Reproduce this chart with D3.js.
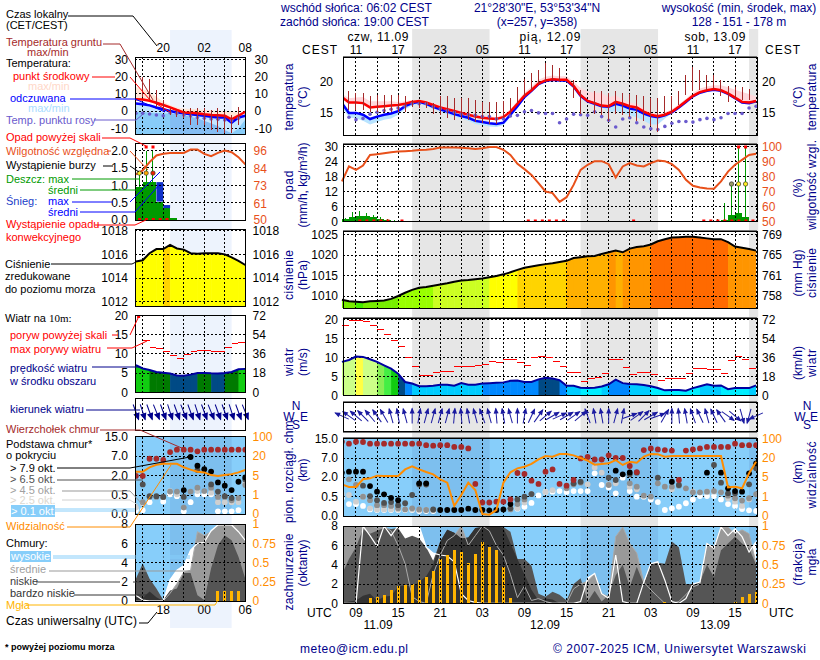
<!DOCTYPE html>
<html>
<head>
<meta charset="utf-8">
<script src="https://cdn.jsdelivr.net/npm/d3@7"></script>
<style>
  html, body { margin: 0; background: #fff; }
  svg { display: block; }
  text { font-family: "Liberation Sans", Arial, sans-serif; font-size: 12px; }
</style>
</head>
<body>
<svg id="chart" width="820" height="660"></svg>
<script>
// hours are counted from 00 UTC 11.09
const hoursM = d3.range(7, 67);
const hoursL = d3.range(14, 31);

// ---- main panel data (hourly, 07 UTC 11.09 -> 18 UTC 13.09)
const tempMid = [17.5,16.6,16.6,16.5,15.8,15.9,16,16.1,16.2,16.4,16.7,16.85,16.6,16.2,15.8,15.5,15.2,14.9,14.6,14.3,14.1,14,13.9,14.2,15.1,16.4,17.7,18.6,19.7,20.2,20.4,20.3,20.3,19.3,17.8,16.85,16.5,16.1,16,16.7,16.4,16,15.8,15.1,14.6,14.35,14.6,15.1,15.9,16.8,17.7,18.3,18.6,18.8,18.6,18.1,17.4,16.7,16.6,16.85];
const tempHi = [18,17.3,17.4,17.5,16.8,16.8,16.8,16.8,16.7,16.8,17,17,16.9,16.5,16.1,15.8,15.5,15.2,14.9,14.6,14.4,14.3,14.2,14.6,15.5,16.9,18.2,19.2,20.3,20.8,21,20.9,20.9,20,19,18.4,18.2,18.2,17.4,17.8,17,16.6,16.4,15.6,15,14.7,15,15.5,16.3,17.2,18.2,18.9,19.2,19.4,19.4,19.1,18.7,18.3,18,17.6];
const tempApp = [16.5,14.9,14.9,14.6,13.9,14.3,14.6,14.8,15.2,16,16.5,16.7,16.4,15.9,15.5,15.1,14.7,14.4,14.1,13.6,13.4,13.2,13.1,13.3,14.6,16,17.5,18.5,19.6,20.1,20.3,20.2,20.2,19.2,17.7,16.8,16.4,16,15.9,16.4,16.1,15.6,15.4,14.8,14.4,14.2,14.5,15,15.8,16.7,17.6,18.2,18.5,18.7,18.5,18,17.3,16.6,16.5,16.8];
const tempAppLo = [15.8,14.2,14,13.6,13,13.4,13.8,14,14.6,15.5,16.1,16.4,16.1,15.6,15.1,14.7,14.3,14,13.6,13.1,12.9,12.7,12.6,12.9,14.2,15.7,17.2,18.3,19.5,20,20.2,20.1,20,19,18,17.2,16.3,15.9,15,15.2,14.9,14.5,14.2,13.6,13,13,14,14.8,15.7,16.6,17.5,18.1,18.4,18.6,18.4,17.9,17.2,16.5,16.4,16.7];
const tempDew = [13.4,14.2,13.8,14,14.7,15,15.3,15.5,15.7,16,16.4,16.4,16.4,15.9,15.6,15.3,15,14.7,14.6,14.5,14.3,14.3,13.9,13.9,14.4,14.5,15.1,15.3,14.9,14.8,14.8,13.3,13.9,14.7,14.6,14.5,15.1,14.3,13.7,12.6,13.9,14.1,13.3,12.6,12.3,12.2,12.7,13.2,13.5,13.5,13.4,13.8,14,13.8,14.1,14.8,14.8,14.8,15.7,16];
const groundHi = [null,18.5,18.2,18.1,17.6,17.9,17.9,17.9,17.8,17.6,17,16.8,16.7,16.5,17.6,17.6,17.4,17.4,17.3,17,16.7,16.7,16.7,16.8,17.4,19.1,20.4,21.5,21.9,23.1,22.7,22.3,null,20.3,18.6,null,18.5,18.4,18.1,18.4,18.1,18,17.8,17.7,17.3,17.3,17.6,17.6,18.5,21.1,22.4,21.9,21.1,21.1,20.3,19.3,19.2,19.1,18.8,null];
const groundLo = [null,15.4,15.4,15.4,15.1,15.1,15.1,15.1,15.1,15.1,15.9,15.7,15.7,14.8,14.6,14.1,13.8,14,13.8,13.4,13.2,13.1,13.1,14,14.8,16.5,17.6,18.6,19.7,20,20.3,20,null,17.4,14.8,null,14.8,14.6,13.5,14.8,14.6,14.3,13.5,13.5,12.7,11.8,14.6,14.8,16.2,17.8,18.4,18.6,18.6,18.8,17.6,16.7,17,17,17,null];

const humidity = [76.7,86.7,84.4,87.3,94.4,94.9,95.5,96.2,96.7,96.9,97.1,97.6,97.8,98.4,99.3,99.3,99.3,99.1,98.9,98.4,98.9,99.6,99.6,97.8,94.4,88.4,84.9,81.1,75.6,70,68.9,63.1,66.2,74.4,84.4,87.8,90.2,90.2,88.2,79.3,86.7,88.9,87.3,86.7,88.9,90.7,90.2,88.2,84.4,77.8,73.8,72.7,72,71.8,76.7,83.3,87.8,91.1,94.4,95.1];
const rainHours = [7,8,9,10,11,12,13,14,60,61,62,63,64];
const rainMean = [1,2,2.4,2.4,1.7,1.1,0.7,0.3,0.1,0.7,2.7,3.3,2];
const rainMax = [1.5,4,4.2,3.3,2.7,1.7,1,0.5,0.9,7.3,15,30,30];
const rainAbove = [63,64];
const stormHours = [62,63,64];
const stormLevel = [1,2,2];
const convective = [9,10,11,12,13,15,33,34,35,36,37,38,48,58,59,60,61,62,63,64,65];

const pressure = [1009.1,1008.7,1008.6,1008.5,1008.7,1008.8,1008.9,1009.3,1010,1010.8,1011.5,1012,1012.2,1012.5,1012.8,1013.1,1013.5,1013.8,1013.9,1014.1,1014.3,1014.6,1014.9,1015.3,1015.8,1016.4,1016.9,1017.2,1017.5,1017.8,1018,1018.3,1018.6,1019.3,1019.5,1019.7,1019.8,1020.3,1020.7,1021.1,1020.7,1021.6,1022,1022.2,1022.6,1023.4,1023.9,1024.3,1024.4,1024.5,1024.5,1024.3,1024.1,1023.9,1023.9,1023.2,1022.1,1021.8,1021.5,1021.1];

const windSpeed = [8.8,9.3,10.2,10.1,9.5,8.8,7.9,7,5.7,3.5,3.1,2.4,2.4,2.5,2.8,2.8,2.5,3.2,2.8,2.8,3.1,3.2,3.3,3.4,3.8,3.9,3.5,3.5,4.2,4.6,4.4,4,2.5,2.5,2,1.9,2,2.3,2.9,4.1,3.2,3,2.9,2.7,2.4,1.9,1.3,1.4,1.4,1.2,1.9,2.4,2.9,2.5,2.6,1.6,1.9,1.9,1.9,2.6];
const windGust = [18.5,19.7,19.7,19.5,18.5,17.4,16,14.4,12.8,10,7.6,5.2,5.2,6,6.3,6.3,7.6,7.6,7.6,7.8,8.2,9,8.7,9.4,9.4,8.7,7.8,10,10.2,10,9,7.6,6.1,6.1,3.6,4.3,4.7,5.7,9.3,9.5,7.3,5.6,5.9,5.9,5.6,4,4.4,4.4,4.4,5.7,7,7.1,6.8,6.8,5.7,9.2,10.2,9.5,7];
const windDir = [-65,-55,-50,-45,-40,-35,-30,-15,-10,-15,0,10,15,15,15,15,5,-5,-10,-15,-20,-15,-5,-10,-15,0,10,25,35,50,60,65,60,55,50,-20,-10,-10,0,15,10,70,55,45,60,70,30,0,-5,-10,-20,-25,-15,-25,-35,125,130,165,195,245];

const cloudTop = [13.6,12.8,13.6,13.5,12.8,12.8,12.8,12.8,12.8,12.8,12.8,12.8,12.2,12,12.2,12.2,11.5,11.5,10.9,1.47,0.35,0.35,0.37,0.37,0.43,3.05,2.8,1.72,1.47,3.4,4,1.47,1.34,1.77,6.9,7.4,6.6,6.6,8.1,7,7,4.9,3.3,10.2,10.9,10.5,10.2,10,1.77,10,10.5,10.9,11.5,11.5,11.5,11.5,12.8,12.2,12.2,12.2];
const base79 = [3.14,3.4,3.4,3.4,1.31,0.88,0.68,0.47,0.41,null,null,1.52,1.52,null,0.155,0.155,0.155,0.155,0.19,0.155,0.155,0.147,0.155,0.17,0.31,null,null,null,null,null,null,null,null,null,null,null,null,null,null,3.67,2.7,3.2,null,null,null,null,null,1.64,null,null,null,null,3.14,null,3.14,1.14,0.93,0.88,2.97,5.6];
const base65 = [null,null,null,1.34,0.55,0.41,0.34,0.36,0.28,0.33,0.63,1.42,1.42,0.17,null,null,null,null,null,null,null,null,null,null,0.2,0.43,0.5,0.7,null,null,null,null,null,1.52,1.64,null,null,null,1.95,1.77,null,2.7,3.14,null,null,1.95,null,null,1.39,null,null,null,null,5.16,1.57,0.76,0.76,null,1.44,4.3];
const base45 = [null,1.82,1.39,0.5,0.41,0.28,0.28,0.26,0.2,0.17,0.2,0.17,0.155,0.155,null,null,null,null,null,null,null,null,null,null,0.17,0.31,0.43,0.7,null,null,null,null,1.14,1.44,1.57,null,null,null,1.39,null,null,1.52,1.26,0.58,0.5,1.52,1.26,1.26,1.34,1.14,0.83,0.83,0.88,0.93,0.83,0.58,0.46,0.4,0.46,0.7];
const base25 = [0.7,0.63,0.37,0.5,0.2,0.17,0.17,0.17,0.17,0.17,0.17,0.155,0.155,null,null,null,null,null,null,null,null,null,null,null,0.24,0.2,0.35,null,null,0.86,1,null,null,null,null,1.44,4.5,3.14,1.44,1.52,null,1.26,1.06,null,null,null,null,1.06,null,null,0.88,null,0.88,0.88,null,0.46,0.37,0.26,0.43,null];
const base01 = [0.46,0.31,0.31,0.26,0.17,0.155,0.155,0.155,0.155,0.155,0.155,0.13,0.13,0.13,null,null,null,null,null,null,null,null,null,null,null,0.19,0.24,0.34,0.6,0.86,0.88,0.93,0.86,0.93,0.93,0.93,2.97,1.39,1.21,0.76,1.95,0.93,0.5,0.5,0.43,0.36,0.155,0.2,0.24,0.33,0.43,0.55,0.55,0.55,0.43,0.31,0.26,0.18,0.147,0.13];
const visibility = [3.5,2.97,2.97,4.53,4.73,6.05,5.8,5.8,5.8,11,13.4,11,8.9,7.1,4.53,3.85,0.52,1.34,3.85,2.36,0.1,0.07,0.31,3.85,8.7,11.8,13.1,15.3,18.9,28.1,25.4,36.3,36.3,30.8,20,17.9,14.7,15.3,15.8,18.4,14.5,17.1,16.3,25.4,36.3,34.9,25.4,28.1,28.1,28.1,28.1,28.1,28.1,28.1,28.1,2.9,3.03,2.7,7.9,17.1];

const cloudHigh = [0,0,0,8,7,5.9,8,7,8,8,8,8,5.8,5.2,5,4.9,4.3,1,0.3,0.1,0,0,0,0,0,0,0,0,0,0,0,0,0,0,0.2,2.6,3.1,1,0.5,5,0.2,0,0,2.2,4.1,4.3,2.4,0.2,0,0.5,2,2.2,6.2,5.7,7.9,7,7.7,6.9,5.3,6.4];
const cloudMid = [8,8,8,8,8,7.8,8,7.5,6,4.1,0.7,0.2,0,3,5,6.5,7,8,6,7,8,7.5,6,5,3,0.6,1.8,0.3,0.5,0.2,0,0,0,1.5,2,2.3,3.1,1,0.7,6.9,7.9,6.2,5.2,2.2,1.4,0.7,0,0,0.2,0.9,1.7,2,6.2,5.8,7.9,7.9,7.2,7.6,7.2,4.1];
const cloudLow = [3,4.6,5.8,7.7,7.2,7.5,7.8,7.7,7.8,6.7,7,6.7,5.8,4.4,6.4,7.6,7.3,6.7,6.8,7.8,7.9,8,8,7.9,7.4,4.6,4.6,3.9,1,0.7,1.2,0.9,0.3,2,2.6,0.2,1.3,0.2,0.9,2.9,4,1.7,3.8,2,4.1,4.2,4.1,6.4,5.8,2,2,2.2,4,2.7,5.5,6.2,6.9,6.2,5.7,4];
const cloudVeryLow = [0,0.2,0.3,0.8,1,0.3,0.7,0.8,1.7,1.9,1.7,2.2,2.8,4,6.4,7.6,7.3,6.7,6.8,7.8,7.9,8,8,7.8,6.2,4.6,3,1.4,0.3,0.5,0.4,0,0,0,0,0,0,0,0,0,0,0,0,0,0,0,0,0,0,0,0,0,0,0,0,0,0,0,0,0];
const fogHours = [11,12,13,14,15,16,17,18,19,20,21,22,23,24,25,26,27,28,29,30,31,53,63,64,65,66];
const fogValue = [0.064,0.077,0.103,0.167,0.227,0.236,0.245,0.305,0.339,0.425,0.579,0.622,0.687,0.665,0.519,0.644,0.798,0.734,0.695,0.472,0.064,0.02,0.02,0.077,0.12,0.15];

// ---- legend panel data (14 -> 30 UTC)
const legMid = [6.9,6.7,6,4.8,3.5,2.1,0.6,-0.8,-1,-1.3,-1.9,-2.3,-2.5,-2.7,-4.8,-2.7,-0.4];
const legHi = [14,12.7,11.2,8.3,5.4,3.5,2.1,1.5,1.2,1,0.6,0.4,0.2,0,-0.4,-0.8,-1.3];
const legApp = [4.4,4,3.3,2.1,1,0,-0.8,-1.3,-1.9,-2.3,-2.7,-3.3,-3.7,-3.7,-6.7,-3.7,-2.7];
const legAppLo = [-0.4,-0.4,-0.8,-1,-1.3,-1.3,-1.7,-2.3,-3.3,-4.2,-5.6,-7.1,-8.7,-11,-12.9,-10,-4.8];
const legDew = [-1.3,-1.3,-1.7,-2.3,-2.7,-1,-1.3,-2.3,-2.9,-3.7,-4.2,-4.6,-4.8,-5.2,-5.6,-4.2,null];
const legGroundHi = [null,20,18.7,12,6.4,1.5,0.6,-0.4,1.5,1.5,1.5,0.6,1.5,-0.4,-2.3,2.5,null];
const legGroundLo = [null,8,6.4,2.5,-0.4,-2.3,-3.3,-4.2,-8,-8,-8,-11,-12,-13,-13,-8,null];
const legHumidity = [80.2,82.8,88.3,92.7,93.8,94.4,94.4,94.4,96.6,96.6,93.8,92.2,94.4,96,94.9,91.6,86.8];
const legRainHours = [14,15,16,17,18,19];
const legRainMean = [0.94,1.1,1.1,0.53,0.34,0.05];
const legRainMax = [1.35,2,2,0.53,0.34,0.05];
const legSnowMax = [0,0,0,1.09,0.43,0];
const legRainAbove = [15,16];
const legStormHours = [14,15,16];
const legStormLevel = [2,3,4];
const legConvective = [14,15,16,17,18];
const legPressure = [1015.4,1015.5,1016.1,1016.45,1016.45,1016.8,1016.5,1016.4,1016.1,1016.05,1016.1,1016.1,1016.1,1016,1015.75,1015.45,1015.1];
const legWind = [7.1,6.2,5.8,5.3,5.1,4.9,4.4,4.3,4.6,5,5.05,4.95,4.9,5.05,5.3,6,6.1];
const legGust = [null,13.5,11.7,11.4,10.6,9.7,8.9,9.8,10.6,10.9,10.9,10.6,10.6,11.6,12.8,12.9];
const legDir = [160,162,160,158,160,162,160,158,160,162,160,158,160,160,162,160,158];
const legTop = [1.97,1.97,6.3,6.3,6,8.6,9.6,9.6,9.6,8.9,9.6,9.6,9.6,9.6,9.6,9.6,9.6];
const leg79 = [null,null,null,null,null,null,null,0.88,6.74,4.5,3.6,3,1.47,1.21,0.88,1.52,1.85];
const leg65 = [null,1.31,0.47,0.47,0.45,null,null,0.45,null,3.4,null,1.31,0.76,0.47,0.42,null,1.7];
const leg45 = [null,0.31,0.45,0.45,0.45,0.76,0.76,0.17,0.76,1.06,0.8,1.06,0.45,0.45,0.36,0.42,1.26];
const leg25 = [0.17,0.28,null,null,null,0.8,0.55,null,null,0.8,null,0.68,0.31,0.31,0.31,0.31,1.39];
const leg01 = [0.1,0.1,0.31,null,0.33,0.55,0.47,0.07,0.31,0.55,0.55,0.55,0.07,0.07,0.07,0.1,null];
const legVis = [7.9,7.9,11.3,13.2,14,14,14,11.3,9.5,7.9,7.4,5.3,4.9,5.3,6.05,7.4,9.2];
const legHigh = [0.6,0.1,0,0,0,2.2,3.2,3.7,5.3,6,6.1,7.3,7.9,7.9,7.9,7.2,6.3];
const legCMid = [0,0,0,0,0,0.8,1.8,3,3.2,7.2,6.8,7.2,7.9,8,7.9,7.9,7.9];
const legLow = [2.3,3.9,2.3,1.3,0.1,1.1,1.3,2.9,2.9,0.6,0.1,3.4,5.8,6.8,6.3,4.6,2.3];
const legVeryLow = [0.4,0.3,1,0.4,0,0,0,0,0,0,0,0,0,0,0,0,0];
const legFogHours = [26,27,28,29];
const legFogValue = [0.13,0.13,0.13,0.13];

// ---- tick labels
const localTicksM = ['11','17','23','05','11','17','23','05','11','17'];
const utcTicksM = ['09','15','21','03','09','15','21','03','09','15'];
const utcHoursM = [9,15,21,27,33,39,45,51,57,63];
const pressureTicks = [1010,1015,1020,1025];
const baseKm = [0,0.5,2,7,15];
const visKm = [0,1,5,20,100];
const fogTicks = [0,0.25,0.5,0.75,1];

const NAVY = '#00008b', RED = '#ff0000', DARKRED = '#a52a2a', ORANGE = '#ff8c00', HUM = '#e8501a', SKY = '#87cefa', GREEN = '#009a00';

const svg = d3.select('#chart');
const xM = d3.scaleLinear([7.15, 66.2], [343, 757.5]);
const xL = d3.scaleLinear([13.87, 30], [135, 245.3]);

// night shading
const nightsM = [[17, 28.03], [41, 52.03], [65, 66.3]];
const nightsL = [[19, 28]];
svg.selectAll('.nm').data(nightsM).join('rect').attr('x', d => xM(d[0])).attr('y', 29)
  .attr('width', d => xM(d[1]) - xM(d[0])).attr('height', 572).attr('fill', '#e6e6e6');
svg.selectAll('.nl').data(nightsL).join('rect').attr('x', d => xL(d[0])).attr('y', 30)
  .attr('width', d => xL(d[1]) - xL(d[0])).attr('height', 598).attr('fill', '#edf3fd');

let clipN = 0;
function clipBox(x0, x1, y0, y1) {
  const id = 'c' + (++clipN);
  svg.append('clipPath').attr('id', id).append('rect').attr('x', x0).attr('y', y0).attr('width', x1 - x0).attr('height', y1 - y0);
  return `url(#${id})`;
}
function lineOf(x, y, hours) {
  return d3.line().defined(d => d != null).x((d, i) => x(hours[i])).y(d => y(d));
}
function areaOf(x, y, hours, lower) {
  return d3.area().x((d, i) => x(hours[i])).y0((d, i) => y(lower[i])).y1(d => y(d));
}
function grid(x, box, vHours, yPos) {
  const g = svg.append('g').attr('stroke', '#000').attr('stroke-dasharray', '2,2').attr('shape-rendering', 'crispEdges');
  vHours.forEach(h => g.append('line').attr('x1', x(h)).attr('x2', x(h)).attr('y1', box.top).attr('y2', box.bottom));
  yPos.forEach(p => g.append('line').attr('x1', box.left).attr('x2', box.right).attr('y1', p).attr('y2', p));
}
function frame(box, shade) {
  svg.append('rect').attr('x', box.left).attr('y', box.top).attr('width', box.right - box.left).attr('height', box.bottom - box.top)
    .attr('fill', 'none').attr('stroke', '#000').attr('shape-rendering', 'crispEdges');
  if (shade) svg.append('line').attr('x1', box.left).attr('x2', box.right).attr('y1', box.top - 1).attr('y2', box.top - 1)
    .attr('stroke', '#777').attr('shape-rendering', 'crispEdges');
}
function axis(scale, side, xPos, values, color, fmt, pad) {
  const a = (side === 'left' ? d3.axisLeft(scale) : d3.axisRight(scale)).tickValues(values).tickSize(0).tickPadding(pad)
    .tickFormat(fmt || (d => d));
  const g = svg.append('g').attr('transform', `translate(${xPos},0)`).call(a);
  g.select('.domain').remove();
  g.selectAll('text').attr('fill', color).style('font-family', '"Liberation Sans", Arial, sans-serif').style('font-size', '12px');
}
const oneDec = d3.format('.1f');

// colour steps of the filled columns
const windColor = d3.scaleThreshold([2.2, 3.01, 4, 5, 6, 7, 8, 8.8, 10],
  ['#00eeff', '#00ccff', '#0088ff', '#004a85', '#007a00', '#11cc11', '#44ee44', '#88ee55', '#ccff88', '#ffff44']);
const pressColor = d3.scaleThreshold([1008.55, 1010.5, 1012.7, 1014.8, 1016.7, 1019.2, 1021, 1023],
  ['#44ee00', '#77ee00', '#99ff00', '#ccff22', '#ffff00', '#ffd400', '#ffb000', '#ff9500', '#ff6a00']);
const stormColor = d3.scaleOrdinal([1, 2, 3, 4], ['#999966', '#ffee22', '#ffaa00', '#ee2200']);

function tempPanel(o) {
  const { x, y, hours, box } = o;
  const clip = clipBox(box.left, box.right, box.top, box.bottom);
  const g = svg.append('g').attr('clip-path', clip);
  g.append('path').attr('d', areaOf(x, y, hours, o.mid)(o.hi)).attr('fill', o.pink);
  if (o.strong) {
    const lowEdge = o.appLo.map(() => o.floor);
    g.append('path').attr('d', areaOf(x, y, hours, o.appLo)(o.app)).attr('fill', '#c4e6ff');
    g.append('path').attr('d', areaOf(x, y, hours, lowEdge)(o.appLo)).attr('fill', '#88ccf8');
    const clipId = 'c' + (++clipN);
    svg.append('clipPath').attr('id', clipId).append('path').attr('d', areaOf(x, y, hours, lowEdge)(o.appLo));
    g.append('g').attr('clip-path', `url(#${clipId})`).selectAll('rect').data(nightsL).join('rect')
      .attr('x', d => x(d[0])).attr('width', d => x(d[1]) - x(d[0])).attr('y', box.top).attr('height', box.bottom - box.top)
      .attr('fill', '#6a5acd').attr('opacity', 0.13);
  } else {
    g.append('path').attr('d', areaOf(x, y, hours, o.appLo)(o.app)).attr('fill', '#b8e4ff');
  }
  grid(x, box, o.vHours, o.yTicks.map(y));
  const h = svg.append('g').attr('clip-path', clip);
  h.append('path').attr('d', lineOf(x, y, hours)(o.app)).attr('fill', 'none').attr('stroke', '#0000ff').attr('stroke-width', 2.5);
  h.append('path').attr('d', lineOf(x, y, hours)(o.mid)).attr('fill', 'none').attr('stroke', RED).attr('stroke-width', 2.5);
  o.dew.forEach((d, i) => { if (d != null) h.append('circle').attr('cx', x(hours[i])).attr('cy', y(d)).attr('r', 1.8).attr('fill', '#6a5acd'); });
  o.groundHi.forEach((d, i) => {
    if (d != null) h.append('line').attr('x1', x(hours[i])).attr('x2', x(hours[i])).attr('y1', y(d)).attr('y2', y(o.groundLo[i]))
      .attr('stroke', DARKRED).attr('shape-rendering', 'crispEdges');
  });
  frame(box, o.shade);
}

function precipPanel(o) {
  const { x, yR, yH, hours, box } = o;
  const g = svg.append('g');
  g.selectAll('.rm').data(o.rainHours).join('rect').attr('x', d => x(d)).attr('width', d => x(d + 1) - x(d))
    .attr('y', (d, i) => yR(o.rainMean[i])).attr('height', (d, i) => yR(0) - yR(o.rainMean[i])).attr('fill', GREEN).attr('shape-rendering', 'crispEdges');
  if (o.snow) g.selectAll('.sm').data(o.rainHours).join('rect').attr('x', d => x(d)).attr('width', d => x(d + 1) - x(d))
    .attr('y', (d, i) => yR(o.snow[i])).attr('height', (d, i) => Math.max(0, yR(o.rainMean[i]) - yR(o.snow[i]))).attr('fill', '#1030c8');
  g.selectAll('.rx').data(o.rainHours).join('line').attr('x1', d => x(d + 0.5)).attr('x2', d => x(d + 0.5))
    .attr('y1', (d, i) => yR(o.rainMax[i])).attr('y2', yR(0)).attr('stroke', GREEN).attr('shape-rendering', 'crispEdges');
  grid(x, box, o.vHours, o.yTicks.map(yR));
  svg.append('path').attr('d', lineOf(x, yH, hours)(o.humidity)).attr('fill', 'none').attr('stroke', HUM).attr('stroke-width', 2);
  svg.selectAll('.ab' + box.left).data(o.above).join('rect').attr('x', d => x(d + 0.5) - 1.5).attr('y', o.overY - 1.5).attr('width', 3).attr('height', 3).attr('fill', RED);
  svg.selectAll('.st' + box.left).data(o.stormHours).join('circle').attr('cx', d => x(d + 0.5)).attr('cy', yR(o.stormAt)).attr('r', 2.2)
    .attr('fill', (d, i) => stormColor(o.stormLevel[i])).attr('stroke', '#333').attr('stroke-width', 0.7);
  svg.selectAll('.co' + box.left).data(o.convective).join('rect').attr('x', d => x(d + 0.55) - 1.5).attr('y', box.bottom - 2).attr('width', 3).attr('height', 2).attr('fill', RED);
  frame(box, o.shade);
}

function pressurePanel(o) {
  const { x, y, hours, box, values } = o;
  const clipId = 'c' + (++clipN);
  const floor = values.map(() => y.invert(box.bottom));
  svg.append('clipPath').attr('id', clipId).append('path').attr('d', areaOf(x, y, hours, floor)(values));
  svg.append('g').attr('clip-path', `url(#${clipId})`).selectAll('rect').data(hours.slice(0, -1)).join('rect')
    .attr('x', d => x(d)).attr('width', d => x(d + 1) - x(d) + 0.5).attr('y', box.top).attr('height', box.bottom - box.top)
    .attr('fill', (d, i) => pressColor(values[i + 1]));
  grid(x, box, o.vHours, o.yTicks.map(y));
  svg.append('path').attr('d', lineOf(x, y, hours)(values)).attr('fill', 'none').attr('stroke', '#000').attr('stroke-width', 2);
  frame(box, o.shade);
}

function windPanel(o) {
  const { x, y, hours, box, values } = o;
  const clipId = 'c' + (++clipN);
  const floor = values.map(() => 0);
  svg.append('clipPath').attr('id', clipId).append('path').attr('d', areaOf(x, y, hours, floor)(values));
  svg.append('g').attr('clip-path', `url(#${clipId})`).selectAll('rect').data(hours.slice(0, -1)).join('rect')
    .attr('x', d => x(d)).attr('width', d => x(d + 1) - x(d) + 0.5).attr('y', box.top).attr('height', box.bottom - box.top)
    .attr('fill', (d, i) => windColor((values[i] + values[i + 1]) / 2));
  grid(x, box, o.vHours, o.yTicks.map(y));
  o.gust.forEach((d, i) => {
    if (d != null) svg.append('line').attr('x1', x(hours[i])).attr('x2', x(hours[i] + 1)).attr('y1', y(d)).attr('y2', y(d))
      .attr('stroke', RED).attr('shape-rendering', 'crispEdges');
  });
  if (o.overHour != null) svg.append('rect').attr('x', x(o.overHour) - 1.5).attr('y', box.top).attr('width', 3).attr('height', 3).attr('fill', RED);
  svg.append('path').attr('d', lineOf(x, y, hours)(values)).attr('fill', 'none').attr('stroke', '#0000a0').attr('stroke-width', 2);
  frame(box, o.shade);
}

function dirPanel(o) {
  const { x, hours, box, values } = o;
  grid(x, box, o.vHours, []);
  const g = svg.selectAll('.dir' + box.left).data(values).join('g')
    .attr('transform', (d, i) => `translate(${x(hours[i])},${o.cy}) rotate(${d})`);
  g.append('line').attr('y1', o.len / 2).attr('y2', -o.len / 2).attr('stroke', o.color).attr('stroke-width', o.w);
  g.append('path').attr('d', `M0,${-o.len / 2 - 1}L${-o.head / 2},${-o.len / 2 + o.head}L${o.head / 2},${-o.len / 2 + o.head}Z`).attr('fill', o.color);
  frame(box, o.shade);
}

function basePanel(o) {
  const { x, y, yV, hours, box } = o;
  svg.append('rect').attr('x', box.left).attr('y', box.top).attr('width', box.right - box.left).attr('height', box.bottom - box.top).attr('fill', SKY);
  o.nights.forEach(n => svg.append('rect').attr('x', Math.max(x(n[0]), box.left)).attr('y', box.top)
    .attr('width', Math.min(x(n[1]), box.right) - Math.max(x(n[0]), box.left)).attr('height', box.bottom - box.top).attr('fill', '#4060a8').attr('opacity', 0.14));
  grid(x, box, o.vHours, baseKm.slice(1).map(y));
  const clip = clipBox(box.left, box.right, box.top, box.bottom);
  const g = svg.append('g').attr('clip-path', clip);
  [[o.b01, '#ffffff'], [o.b25, '#cfcfcf'], [o.b45, '#909090'], [o.b65, '#505050'], [o.b79, '#000000'], [o.top, '#a52a2a']].forEach(([vals, col]) => {
    vals.forEach((d, i) => { if (d != null) g.append('circle').attr('cx', x(hours[i])).attr('cy', y(d)).attr('r', 2.9).attr('fill', col); });
  });
  g.append('path').attr('d', lineOf(x, yV, hours)(o.vis)).attr('fill', 'none').attr('stroke', ORANGE).attr('stroke-width', 2);
  frame(box, o.shade);
}

function coverPanel(o) {
  const { x, y, yF, hours, box } = o;
  svg.append('rect').attr('x', box.left).attr('y', box.top).attr('width', box.right - box.left).attr('height', box.bottom - box.top).attr('fill', SKY);
  o.nights.forEach(n => svg.append('rect').attr('x', Math.max(x(n[0]), box.left)).attr('y', box.top)
    .attr('width', Math.min(x(n[1]), box.right) - Math.max(x(n[0]), box.left)).attr('height', box.bottom - box.top).attr('fill', '#4060a8').attr('opacity', 0.14));
  const g = svg.append('g').attr('clip-path', clipBox(box.left, box.right, box.top, box.bottom));
  const zero = hours.map(() => 0);
  [[o.high, '#ffffff'], [o.mid, '#999999'], [o.low, '#555555'], [o.veryLow, '#333333']].forEach(([vals, col]) => {
    g.append('path').attr('d', areaOf(x, y, hours, zero)(vals)).attr('fill', col);
  });
  g.append('path').attr('d', lineOf(x, y, hours)(o.mid)).attr('fill', 'none').attr('stroke', '#aaaaaa');
  g.append('path').attr('d', lineOf(x, y, hours)(o.high)).attr('fill', 'none').attr('stroke', '#ffffff').attr('stroke-width', 1.2);
  g.selectAll('rect').data(o.fogHours).join('rect').attr('x', d => x(d) - 1.5).attr('width', 3)
    .attr('y', (d, i) => yF(o.fogValue[i])).attr('height', (d, i) => yF(0) - yF(o.fogValue[i])).attr('fill', '#ffb400').attr('shape-rendering', 'crispEdges');
  grid(x, box, o.vHours, o.yTicks.map(y));
  frame(box, o.shade);
}

// ---------- main column
const vM = d3.range(9, 67, 3);
const bT = { left: 343, right: 757, top: 57, bottom: 135 };
const bP = { left: 343, right: 757, top: 144, bottom: 221.5 };
const bS = { left: 343, right: 757, top: 231, bottom: 308 };
const bW = { left: 343, right: 757, top: 318, bottom: 395 };
const bD = { left: 343, right: 757, top: 402, bottom: 431 };
const bB = { left: 343, right: 757, top: 438.5, bottom: 516 };
const bC = { left: 343, right: 757, top: 526, bottom: 603 };

const yTM = d3.scaleLinear([15, 20], [112.3, 81.7]);
tempPanel({ x: xM, y: yTM, hours: hoursM, box: bT, mid: tempMid, hi: tempHi, app: tempApp, appLo: tempAppLo, dew: tempDew, groundHi, groundLo, pink: '#ffd8dc', vHours: vM, yTicks: [15, 20], shade: true });
axis(yTM, 'left', 343, [15, 20], '#000', null, 10);
axis(yTM, 'right', 757, [15, 20], '#000', null, 5);

const yRM = d3.scaleLinear([0, 30], [221.5, 146.5]);
const yHM = d3.scaleLinear([50, 100], [221.5, 146.5]);
precipPanel({ x: xM, yR: yRM, yH: yHM, hours: hoursM, box: bP, humidity, rainHours, rainMean, rainMax, above: rainAbove, overY: 147, stormHours, stormLevel, stormAt: 15, convective, vHours: vM, yTicks: [6, 12, 18, 24, 30], shade: true });
axis(yRM, 'left', 343, [0, 6, 12, 18, 24, 30], '#000', null, 5);
axis(yHM, 'right', 757, [50, 60, 70, 80, 90, 100], '#e8501a', null, 5);

const ySM = d3.scaleLinear([1010, 1025], [296, 234.7]);
const ySMm = d3.scaleLinear([1010 * 0.75006, 1025 * 0.75006], [296, 234.7]);
pressurePanel({ x: xM, y: ySM, hours: hoursM, box: bS, values: pressure, vHours: vM, yTicks: pressureTicks, shade: true });
axis(ySM, 'left', 343, pressureTicks, '#000', null, 5);
axis(ySMm, 'right', 757, pressureTicks.map(d => d * 0.75006), '#000', d => Math.round(d), 5);

const yWM = d3.scaleLinear([0, 20], [395.3, 319.3]);
const yWMk = d3.scaleLinear([0, 72], [395.3, 319.3]);
windPanel({ x: xM, y: yWM, hours: hoursM, box: bW, values: windSpeed, gust: windGust, vHours: vM, yTicks: [5, 10, 15, 20], shade: true });
axis(yWM, 'left', 343, [0, 5, 10, 15, 20], '#000', null, 5);
axis(yWMk, 'right', 757, [0, 18, 36, 54, 72], '#000', null, 5);

dirPanel({ x: xM, hours: hoursM, box: bD, values: windDir, vHours: vM, cy: 416, len: 15, head: 5, w: 1, color: '#1a1aa0', shade: true });
svg.append('line').attr('x1', 343).attr('x2', 757).attr('y1', 432).attr('y2', 432).attr('stroke', '#777').attr('shape-rendering', 'crispEdges');

const yBM = d3.scaleLinear(baseKm, [516, 496.7, 477, 458, 438.3]);
const yVM = d3.scaleLinear(visKm, [516, 496.7, 477, 458, 438.3]);
basePanel({ x: xM, y: yBM, yV: yVM, hours: hoursM, box: bB, nights: nightsM, b01: base01, b25: base25, b45: base45, b65: base65, b79: base79, top: cloudTop, vis: visibility, vHours: vM, shade: true });
axis(yBM, 'left', 343, baseKm, '#000', oneDec, 5);
axis(yVM, 'right', 757, visKm, ORANGE, null, 5);

const yCM = d3.scaleLinear([0, 8], [603.4, 526]);
const yFM = d3.scaleLinear([0, 1], [603.4, 526]);
coverPanel({ x: xM, y: yCM, yF: yFM, hours: hoursM, box: bC, nights: nightsM, high: cloudHigh, mid: cloudMid, low: cloudLow, veryLow: cloudVeryLow, fogHours, fogValue, vHours: vM, yTicks: [2, 4, 6] });
axis(yCM, 'left', 343, [0, 2, 4, 6, 8], '#000', null, 5);
axis(yFM, 'right', 757, fogTicks, ORANGE, null, 5);

// ---------- legend column
const vL = [15, 18, 21, 24, 27];
const bLT = { left: 135, right: 245.5, top: 57, bottom: 134 };
const bLP = { left: 135, right: 245.5, top: 143.5, bottom: 220 };
const bLS = { left: 135, right: 245.5, top: 229.5, bottom: 306.5 };
const bLW = { left: 135, right: 245.5, top: 315, bottom: 392.5 };
const bLD = { left: 135, right: 245.5, top: 398.5, bottom: 430 };
const bLB = { left: 135, right: 245.5, top: 436.5, bottom: 514 };
const bLC = { left: 135, right: 245.5, top: 524, bottom: 601 };

const yTL = d3.scaleLinear([-10, 30], [128.3, 59.3]);
tempPanel({ x: xL, y: yTL, hours: hoursL, box: bLT, mid: legMid, hi: legHi, app: legApp, appLo: legAppLo, dew: legDew, groundHi: legGroundHi, groundLo: legGroundLo, pink: '#ffe6d8', strong: true, floor: -14, vHours: vL, yTicks: [-10, 0, 10, 20, 30] });
axis(yTL, 'left', 135, [-10, 0, 10, 20, 30], '#000', null, 7);
axis(yTL, 'right', 245.5, [-10, 0, 10, 20, 30], '#000', null, 9);

const yRL = d3.scaleLinear([0, 2], [220, 150.5]);
const yHL = d3.scaleLinear([50, 96], [220, 150.5]);
precipPanel({ x: xL, yR: yRL, yH: yHL, hours: hoursL, box: bLP, humidity: legHumidity, rainHours: legRainHours, rainMean: legRainMean, rainMax: legRainMax, snow: legSnowMax, above: legRainAbove, overY: 147, stormHours: legStormHours, stormLevel: legStormLevel, stormAt: 1.35, convective: legConvective, vHours: vL, yTicks: [0.5, 1, 1.5, 2] });
axis(yRL, 'left', 135, [0, 0.5, 1, 1.5, 2], '#000', oneDec, 7);
axis(yHL, 'right', 245.5, [50, 61, 73, 84, 96], '#e8501a', null, 8);

const ySL = d3.scaleLinear([1012, 1018], [301.7, 230.7]);
pressurePanel({ x: xL, y: ySL, hours: hoursL, box: bLS, values: legPressure, vHours: vL, yTicks: [1012, 1014, 1016, 1018] });
axis(ySL, 'left', 135, [1012, 1014, 1016, 1018], '#000', null, 7);
axis(ySL, 'right', 245.5, [1012, 1014, 1016, 1018], '#000', null, 7);

const yWL = d3.scaleLinear([0, 20], [392.3, 315.5]);
const yWLk = d3.scaleLinear([0, 72], [392.3, 315.5]);
windPanel({ x: xL, y: yWL, hours: hoursL, box: bLW, values: legWind, gust: legGust, overHour: 14.4, vHours: vL, yTicks: [5, 10, 15] });
axis(yWL, 'left', 135, [0, 5, 10, 15, 20], '#000', null, 7);
axis(yWLk, 'right', 245.5, [0, 18, 36, 54, 72], '#000', null, 7);

dirPanel({ x: xL, hours: hoursL, box: bLD, values: legDir, vHours: vL, cy: 412, len: 16, head: 6.5, w: 1, color: '#00008b' });

const yBL = d3.scaleLinear(baseKm, [514, 495, 475.5, 456, 436.5]);
const yVL = d3.scaleLinear(visKm, [514, 495, 475.5, 456, 436.5]);
basePanel({ x: xL, y: yBL, yV: yVL, hours: hoursL, box: bLB, nights: nightsL, b01: leg01, b25: leg25, b45: leg45, b65: leg65, b79: leg79, top: legTop, vis: legVis, vHours: vL });
axis(yBL, 'left', 135, baseKm, '#000', oneDec, 7);
axis(yVL, 'right', 245.5, visKm, ORANGE, null, 7);

const yCL = d3.scaleLinear([0, 8], [601, 524]);
const yFL = d3.scaleLinear([0, 1], [601, 524]);
coverPanel({ x: xL, y: yCL, yF: yFL, hours: hoursL, box: bLC, nights: nightsL, high: legHigh, mid: legCMid, low: legLow, veryLow: legVeryLow, fogHours: legFogHours, fogValue: legFogValue, vHours: vL, yTicks: [2, 4, 6] });
axis(yCL, 'left', 135, [0, 2, 4, 6, 8], '#000', null, 7);
axis(yFL, 'right', 245.5, fogTicks, ORANGE, null, 7);

// ---------- time labels
utcHoursM.forEach((h, i) => {
  svg.append('text').attr('x', xM(h)).attr('y', 54).attr('text-anchor', 'middle').text(localTicksM[i]);
  svg.append('text').attr('x', xM(h)).attr('y', 617).attr('text-anchor', 'middle').text(utcTicksM[i]);
});
[[18, '20', '18'], [24, '02', '00'], [30, '08', '06']].forEach(([h, a, b]) => {
  svg.append('text').attr('x', xL(h)).attr('y', 52).attr('text-anchor', 'middle').text(a);
  svg.append('text').attr('x', xL(h)).attr('y', 614).attr('text-anchor', 'middle').text(b);
});

// ---------- legend leader lines: colour, points
const leaders = [
  ['#000', [[68,16],[133,16],[157,46]]],
  [DARKRED, [[103,44],[120,44],[153,100]]],
  [RED, [[92,77],[115,77]]],
  [RED, [[130,77],[150,100],[170,112]]],
  ['#0000ff', [[70,99],[135,99],[165,112]]],
  ['#6a5acd', [[94,120],[136,120],[142,115]]],
  [RED, [[102,138],[130,138],[146,146]]],
  ['#e8501a', [[107,151],[111,151]]],
  ['#e8501a', [[130,151],[148,170]]],
  ['#000', [[103,166],[113,166]]],
  ['#000', [[130,166],[139,172]]],
  [GREEN, [[72,179],[139,179]]],
  [GREEN, [[80,190],[140,190]]],
  ['#0000ff', [[72,202],[113,202]]],
  ['#0000ff', [[130,202],[160,172]]],
  ['#0000ff', [[80,212],[135,212],[160,184]]],
  [RED, [[95,225],[135,225],[146,220]]],
  ['#000', [[51,264],[132,264],[136,262]]],
  [RED, [[112,335],[118,335]]],
  [RED, [[130,335],[139,316]]],
  [RED, [[107,348],[132,348],[147,341]]],
  ['#00008b', [[92,367],[140,367]]],
  ['#00008b', [[86,410],[140,410]]],
  [DARKRED, [[100,430],[140,430],[184,449]]],
  ['#000', [[57,468],[130,468],[190,457]]],
  ['#505050', [[57,480],[143,480]]],
  ['#999', [[62,491],[130,491],[143,505]]],
  ['#d0d0d0', [[62,500],[130,500],[138,505]]],
  [SKY, [[55,509],[135,509]]],
  [SKY, [[55,511],[135,511]]],
  [ORANGE, [[67,527],[130,527],[171,465]]],
  [SKY, [[53,556],[190,556]]],
  [SKY, [[53,558],[190,558]]],
  ['#999', [[49,571],[193,571]]],
  ['#404040', [[36,582],[120,582]]],
  ['#404040', [[133,582],[140,582]]],
  ['#333', [[74,595],[150,595]]],
  ['#ffb400', [[26,605],[215,605],[218,600]]],
  ['#000', [[139,623],[148,623],[157,612]]]
];
const leaderLine = d3.line();
svg.selectAll('.leader').data(leaders).join('path').attr('d', d => leaderLine(d[1])).attr('fill', 'none').attr('stroke', d => d[0]);

// filled boxes behind the white legend words
[[11, 505, 44, 12], [10, 551, 41, 11]].forEach(b => svg.append('rect').attr('x', b[0]).attr('y', b[1]).attr('width', b[2]).attr('height', b[3]).attr('fill', SKY));

// ---------- legend words (smaller type): string, x, y, colour
const legendNotes = [
  ['Czas lokalny', 6, 18, '#000'], ['(CET/CEST)', 6, 29, '#000'],
  ['Temperatura gruntu', 6, 46, DARKRED], ['max/min', 27, 56, DARKRED],
  ['Temperatura:', 6, 67, '#000'], ['punkt środkowy', 13, 80, RED],
  ['max/min', 28, 90, '#ffd8c8'], ['odczuwana', 10, 102, '#0000ff'], ['max/min', 28, 112, '#a8dcff'],
  ['Temp. punktu rosy', 6, 124, '#6a5acd'], ['Opad powyżej skali', 6, 141, RED],
  ['Wilgotność względna', 6, 155, '#e8501a'], ['Wystąpienie burzy', 6, 169, '#000'],
  ['Deszcz: max', 6, 183, GREEN], ['średni', 48, 194, GREEN], ['Śnieg:', 6, 205, '#1a40c8'], ['max', 48, 205, '#0000ff'], ['średni', 48, 216, '#0000ff'],
  ['Wystąpienie opadu', 6, 228, RED], ['konwekcyjnego', 6, 241, RED],
  ['Ciśnienie', 5, 268, '#000'], ['zredukowane', 5, 280, '#000'], ['do poziomu morza', 5, 293, '#000'],
  ['Wiatr na', 5, 322, '#000'], ['poryw powyżej skali', 10, 339, RED], ['max porywy wiatru', 10, 353, RED],
  ['prędkość wiatru', 10, 372, '#00008b'], ['w środku obszaru', 10, 385, '#00008b'], ['kierunek wiatru', 10, 413, '#00008b'],
  ['Wierzchołek chmur', 6, 433, DARKRED], ['Podstawa chmur*', 6, 448, '#000'], ['o pokryciu', 6, 459, '#000'],
  ['> 7.9 okt.', 10, 472, '#000'], ['> 6.5 okt.', 10, 483, '#505050'], ['> 4.5 okt.', 10, 494, '#a0a0a0'],
  ['> 2.5 okt.', 10, 504, '#dcd8d0'], ['> 0.1 okt.', 11, 515, '#fff'], ['Widzialność', 6, 530, ORANGE],
  ['Chmury:', 6, 547, '#000'], ['wysokie', 11, 560, '#fff'], ['średnie', 10, 573, '#a0a0a0'], ['niskie', 10, 585, '#404040'],
  ['bardzo niskie', 10, 597, '#333'], ['Mgła', 6, 609, '#ffb400']
];
svg.selectAll('.lnote').data(legendNotes).join('text').attr('x', d => d[1]).attr('y', d => d[2]).attr('fill', d => d[3])
  .style('font-size', '11px').text(d => d[0]);
svg.append('text').attr('x', 49).attr('y', 322).style('font-family', '"Liberation Serif", serif').style('font-size', '11px').text('10m:');

// ---------- texts: string, x, y, colour, anchor, fitted width
const notes = [
  ['Czas uniwersalny (UTC)', 6, 625, '#000', 'start', 131],
  ['wschód słońca: 06:02 CEST', 281, 12, NAVY], ['zachód słońca: 19:00 CEST', 280, 26, NAVY],
  ['21°28\'30"E, 53°53\'34"N', 537, 12, NAVY, 'middle'], ['(x=257, y=358)', 537, 26, NAVY, 'middle'],
  ['wysokość (min, środek, max)', 739, 12, NAVY, 'middle'], ['128 - 151 - 178 m', 739, 26, NAVY, 'middle'],
  ['czw, 11.09', 378, 41, '#000', 'middle', 61], ['pią, 12.09', 550, 41, '#000', 'middle', 61], ['sob, 13.09', 715, 41, '#000', 'middle', 61],
  ['CEST', 302, 54, '#000', 'start', 35], ['CEST', 765, 54, '#000', 'start', 35], ['UTC', 307, 617, '#000'], ['UTC', 769, 617, '#000'],
  ['11.09', 378, 629, '#000', 'middle'], ['12.09', 545, 629, '#000', 'middle'], ['13.09', 715, 629, '#000', 'middle'],
  ['N', 296, 410, NAVY, 'middle'], ['W', 289, 421, NAVY, 'middle'], ['E', 304, 421, NAVY, 'middle'], ['S', 296, 429, NAVY, 'middle'],
  ['N', 807, 410, NAVY, 'middle'], ['W', 800, 421, NAVY, 'middle'], ['E', 814, 421, NAVY, 'middle'], ['S', 807, 429, NAVY, 'middle'],
  ['meteo@icm.edu.pl', 354, 653, NAVY, 'middle', 108], ['© 2007-2025 ICM, Uniwersytet Warszawski', 679.5, 653, NAVY, 'middle', 253]
];
svg.selectAll('.note').data(notes).join('text').attr('x', d => d[1]).attr('y', d => d[2]).attr('fill', d => d[3])
  .attr('text-anchor', d => d[4] || 'start').attr('textLength', d => d[5] || null).text(d => d[0]);
svg.append('text').attr('x', 5).attr('y', 650).attr('font-weight', 'bold').style('font-size', '9px').attr('fill', '#000').text('* powyżej poziomu morza');

// rotated axis titles: string, baseline x, centre y, fitted length
const titles = [
  ['temperatura', 293, 97, 67], ['(°C)', 307, 97, 21], ['opad', 293, 185, 29], ['(mm/h, kg/m³/h)', 307, 185, 85],
  ['ciśnienie', 293, 275, 50], ['(hPa)', 307, 275, 30], ['wiatr', 293, 362, 28], ['(m/s)', 307, 362, 28],
  ['pion. rozciągł. chm.', 293, 470, 106], ['(km)', 307, 470, 23], ['zachmurzenie', 293, 572, 77], ['(oktanty)', 307, 563, 47],
  ['(°C)', 802, 97, 21], ['temperatura', 816, 97, 67], ['(%)', 802, 188, 19], ['wilgotność wzgl.', 816, 185, 90],
  ['(mm Hg)', 802, 273, 47], ['ciśnienie', 816, 273, 50], ['(km/h)', 802, 363, 34], ['wiatr', 816, 363, 28],
  ['(km)', 802, 472, 23], ['widzialność', 816, 475, 67], ['(frakcja)', 802, 562, 47], ['mgła', 816, 562, 27]
];
svg.selectAll('.title').data(titles).join('text').attr('transform', d => `translate(${d[1]},${d[2]}) rotate(-90)`)
  .attr('text-anchor', 'middle').attr('fill', NAVY).attr('textLength', d => d[3]).text(d => d[0]);
</script>
</body>
</html>
